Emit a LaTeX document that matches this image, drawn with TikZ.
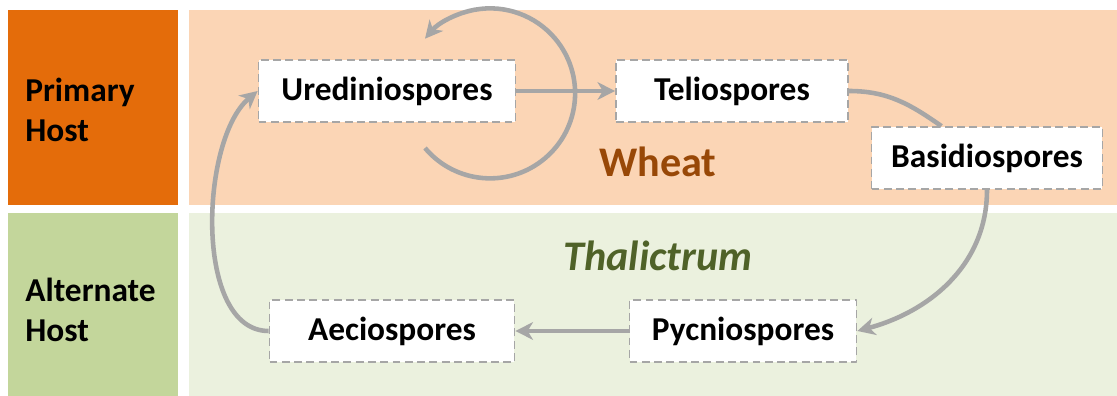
\documentclass[tikz,border=0pt]{standalone}
\usepackage{fontspec}
\usetikzlibrary{arrows.meta}
\setmainfont{Carlito}
\definecolor{hostorange}{HTML}{E46C0A}
\definecolor{wheatpeach}{HTML}{FBD5B5}
\definecolor{hostgreen}{HTML}{C3D69B}
\definecolor{thalpale}{HTML}{EBF1DE}
\definecolor{wheatbrown}{HTML}{984807}
\definecolor{thaldark}{HTML}{4F6228}
\definecolor{arrowgray}{HTML}{A6A6A6}
\begin{document}
\begin{tikzpicture}[x=.02cm, y=.02cm, line join=round, >={Stealth[length=10pt, width=10pt, inset=3pt]},
    spore/.style={draw=arrowgray, dash pattern=on 4.5pt off 2.5pt, line width=1pt, fill=white,
        minimum height=1.24cm, font=\bfseries\fontsize{19}{23}\selectfont},
    host/.style={anchor=west, align=left, inner sep=0pt, font=\bfseries\fontsize{19}{23}\selectfont},
    flow/.style={draw=arrowgray, line width=2.6pt}]
    \def\xma{1117}
    \def\yma{396}
    \useasboundingbox (0,0) rectangle (\xma,\yma);
    % host bands
    \fill[hostorange] (8,191) rectangle (178,386);
    \fill[wheatpeach] (189,191) rectangle (\xma,386);
    \fill[hostgreen] (8,0) rectangle (178,183);
    \fill[thalpale] (189,0) rectangle (\xma,183);
    \path
    node (primary) at (25,286)[host]{Primary\\Host}
    node (alternate) at (25,86)[host]{Alternate\\Host}
    node (wheat) at (658,234)[font=\bfseries\fontsize{24}{28}\selectfont, text=wheatbrown]{Wheat}
    node (thal) at (658,140)[font=\bfseries\itshape\fontsize{24}{28}\selectfont, text=thaldark]{Thalictrum};
    % spore stages
    \node[spore, minimum width=5.14cm] (uredo) at (387,305) {Urediniospores};
    \node[spore, minimum width=4.64cm] (telio) at (732,305) {Teliospores};
    \node[spore, minimum width=4.62cm] (basidio) at (987,238) {Basidiospores};
    \node[spore, minimum width=4.54cm] (pycnio) at (743,65) {Pycniospores};
    \node[spore, minimum width=4.90cm] (aecio) at (392,65) {Aeciospores};
    \coordinate (loopin) at (425,248);
    \draw[flow,->] (loopin) arc[start angle=-140, end angle=140, radius=85];
    \draw[flow,->] (uredo) -- (telio);
    \draw[flow] (telio) to[out=0, in=145] (basidio);
    \draw[flow,->] (basidio.south) to[out=-90, in=15] (pycnio.east);
    \draw[flow,->] (pycnio) -- (aecio);
    \draw[flow,->] (aecio.west) to[out=180, in=220, looseness=.8] (uredo.west);
\end{tikzpicture}
\end{document}
